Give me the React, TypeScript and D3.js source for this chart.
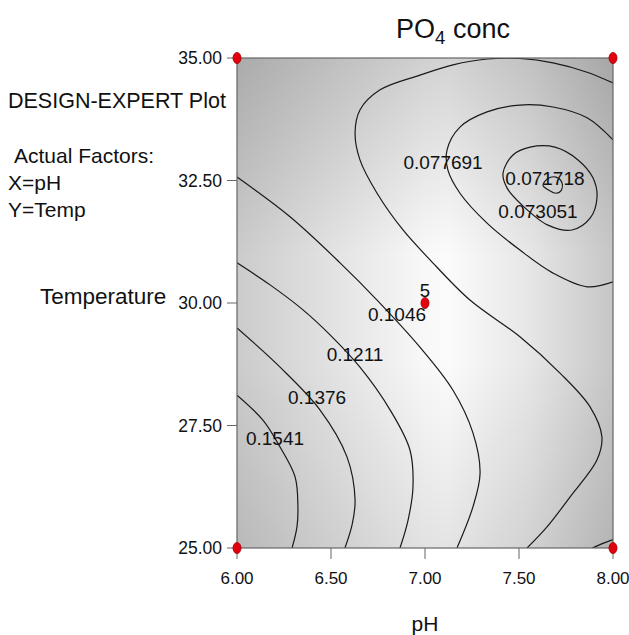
import React from "react";
import * as d3 from "d3";

// axis ticks
const phTicks = [6, 6.5, 7, 7.5, 8];
const tempTicks = [25, 27.5, 30, 32.5, 35];

// contour lines, as [pH, Temp]
const line1541 = [[6.0, 28.12], [6.138, 27.61], [6.229, 27.06], [6.309, 26.45], [6.324, 25.84], [6.319, 25.43], [6.293, 25.0]];
const line1376 = [[6.0, 29.49], [6.229, 28.69], [6.441, 27.82], [6.585, 26.86], [6.628, 25.98], [6.612, 25.47], [6.574, 25.0]];
const line1211 = [[6.0, 30.82], [6.176, 30.37], [6.351, 29.86], [6.495, 29.35], [6.654, 28.69], [6.814, 27.82], [6.92, 27.0], [6.936, 26.24], [6.91, 25.57], [6.867, 25.0]];
const line1046 = [[6.0, 32.57], [6.282, 31.76], [6.548, 30.82], [6.745, 30.06], [6.973, 29.1], [7.149, 28.22], [7.255, 27.35], [7.293, 26.53], [7.255, 25.84], [7.17, 25.0]];
const line0881 = [[8.0, 34.49], [7.862, 34.71], [7.681, 34.9], [7.505, 34.99], [7.33, 34.98], [7.149, 34.86], [6.973, 34.65], [6.761, 34.35], [6.654, 33.94], [6.628, 33.47], [6.654, 32.92], [6.745, 32.24], [6.883, 31.49], [7.027, 30.88], [7.239, 30.06], [7.505, 29.31], [7.718, 28.57], [7.878, 27.88], [7.941, 27.27], [7.915, 26.8], [7.771, 26.04], [7.649, 25.43], [7.543, 25.0]];
const line0881b = [[7.89, 25.0], [7.95, 25.1], [8.0, 25.17]];
const line077691 = [[8.0, 33.33], [7.862, 33.78], [7.681, 34.0], [7.505, 34.04], [7.33, 33.9], [7.186, 33.59], [7.117, 33.12], [7.122, 32.71], [7.186, 32.24], [7.33, 31.63], [7.505, 31.08], [7.681, 30.61], [7.862, 30.33], [8.0, 30.43]];
const loop073051 = [[7.415, 32.65], [7.468, 33.02], [7.559, 33.18], [7.691, 33.18], [7.814, 32.92], [7.894, 32.55], [7.915, 32.16], [7.878, 31.73], [7.782, 31.49], [7.654, 31.59], [7.516, 32.0], [7.436, 32.35]];
const loop071718 = [[7.628, 32.4], [7.65, 32.53], [7.697, 32.57], [7.729, 32.45], [7.723, 32.29], [7.697, 32.24], [7.655, 32.31]];

const openLines = [line1541, line1376, line1211, line1046, line0881, line0881b, line077691];
const closedLines = [loop073051, loop071718];

// contour labels: text, pH, Temp
const labelText = ["0.1541", "0.1376", "0.1211", "0.1046", "0.077691", "0.071718", "0.073051"];
const labelPh = [6.202, 6.426, 6.628, 6.851, 7.096, 7.638, 7.601];
const labelTemp = [27.24, 28.08, 28.94, 29.76, 32.86, 32.55, 31.86];

// design points
const pointPh = [6, 8, 6, 8, 7];
const pointTemp = [35, 35, 25, 25, 30];
const centerReps = "5";

export default function App() {
  const x = d3.scaleLinear().domain([6, 8]).range([237, 613]);
  const y = d3.scaleLinear().domain([25, 35]).range([548, 58]);
  const fmt = d3.format(".2f");
  const open = d3
    .line<number[]>()
    .x((d) => x(d[0]))
    .y((d) => y(d[1]))
    .curve(d3.curveCatmullRom);
  const closed = d3
    .line<number[]>()
    .x((d) => x(d[0]))
    .y((d) => y(d[1]))
    .curve(d3.curveCatmullRomClosed);

  const x0 = x(6), x1 = x(8), y0 = y(35), y1 = y(25);
  const font = "'Liberation Sans', Arial, Helvetica, sans-serif";

  return (
    <svg
      width={629}
      height={635}
      style={{ position: "absolute", left: 0, top: 0, background: "#fff" }}
      fontFamily={font}
    >
      <defs>
        <linearGradient id="shadeX" x1="0" y1="0" x2="1" y2="0">
          <stop offset="0" stopColor="#cbcbcb" />
          <stop offset="0.25" stopColor="#e2e2e2" />
          <stop offset="0.5" stopColor="#f8f8f8" />
          <stop offset="0.56" stopColor="#fbfbfb" />
          <stop offset="0.78" stopColor="#e6e6e6" />
          <stop offset="1" stopColor="#c6c6c6" />
        </linearGradient>
        <linearGradient id="shadeY" x1="0" y1="0" x2="0" y2="1">
          <stop offset="0" stopColor="#000" stopOpacity="0.16" />
          <stop offset="0.4" stopColor="#000" stopOpacity="0" />
          <stop offset="0.62" stopColor="#000" stopOpacity="0" />
          <stop offset="1" stopColor="#000" stopOpacity="0.09" />
        </linearGradient>
        <clipPath id="plotClip">
          <rect x={x0} y={y0} width={x1 - x0} height={y1 - y0} />
        </clipPath>
      </defs>

      <rect x={x0} y={y0} width={x1 - x0} height={y1 - y0} fill="url(#shadeX)" />
      <rect x={x0} y={y0} width={x1 - x0} height={y1 - y0} fill="url(#shadeY)" />

      <g clipPath="url(#plotClip)" fill="none" stroke="#1a1a1a" strokeWidth={1.2}>
        {openLines.map((l, i) => (
          <path key={"o" + i} d={open(l) || ""} />
        ))}
        {closedLines.map((l, i) => (
          <path key={"c" + i} d={closed(l) || ""} />
        ))}
      </g>

      <rect x={x0} y={y0} width={x1 - x0} height={y1 - y0} fill="none" stroke="#666" strokeWidth={1.2} />

      {/* left axis */}
      {tempTicks.map((t) => (
        <g key={"ty" + t}>
          <line x1={x0 - 10} x2={x0} y1={y(t)} y2={y(t)} stroke="#666" />
          <text x={x0 - 15} y={y(t) + 6} textAnchor="end" fontSize={17.5} fill="#111">
            {fmt(t)}
          </text>
        </g>
      ))}
      {/* bottom axis */}
      {phTicks.map((t) => (
        <g key={"tx" + t}>
          <line x1={x(t)} x2={x(t)} y1={y1} y2={y1 + 11} stroke="#666" />
          <text x={x(t)} y={584} textAnchor="middle" fontSize={17} fill="#111">
            {fmt(t)}
          </text>
        </g>
      ))}

      {labelText.map((s, i) => (
        <text
          key={"l" + i}
          x={x(labelPh[i])}
          y={y(labelTemp[i]) + 6.5}
          textAnchor="middle"
          fontSize={19}
          fill="#111"
        >
          {s}
        </text>
      ))}

      {pointPh.map((p, i) => (
        <ellipse key={"p" + i} cx={x(p)} cy={y(pointTemp[i])} rx={4} ry={5.5} fill="#e3000f" stroke="#a00000" strokeWidth={0.8} />
      ))}
      <text x={x(7)} y={y(30) - 6} textAnchor="middle" fontSize={18.5} fill="#111">
        {centerReps}
      </text>

      <text x={453} y={38} textAnchor="middle" fontSize={27} fill="#111">
        PO<tspan fontSize={18.5} dy={6}>4</tspan>
        <tspan dy={-6}> conc</tspan>
      </text>

      <text x={8} y={108} fontSize={21.5} fill="#111">DESIGN-EXPERT Plot</text>
      <text x={14} y={163} fontSize={21} fill="#111">Actual Factors:</text>
      <text x={8} y={190} fontSize={21} fill="#111">X=pH</text>
      <text x={8} y={217} fontSize={21} fill="#111">Y=Temp</text>
      <text x={40} y={304} fontSize={22.5} fill="#111">Temperature</text>
      <text x={x(7)} y={631} textAnchor="middle" fontSize={21} fill="#111">pH</text>
    </svg>
  );
}
